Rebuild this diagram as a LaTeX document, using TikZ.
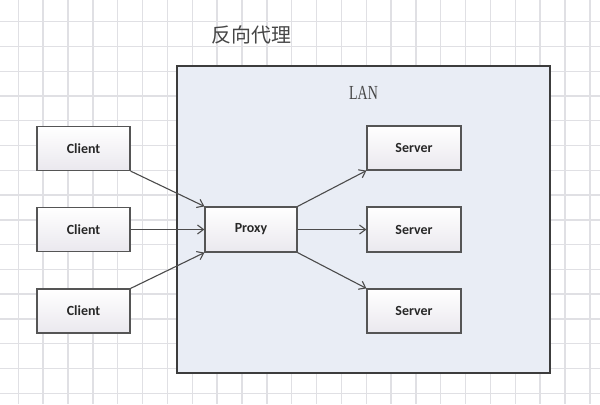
\documentclass[tikz,border=0pt]{standalone}
\usepackage{fontspec}
\usepackage{graphicx}
\usetikzlibrary{arrows.meta}
\newfontfamily\carlito{Carlito}
\newfontfamily\cjk{Noto Sans CJK SC}
\newfontfamily\serifb{Liberation Serif}
\definecolor{gridc}{RGB}{224,224,228}
\definecolor{lanfill}{RGB}{233,237,245}
\definecolor{lanline}{RGB}{60,60,60}
\definecolor{boxline}{RGB}{85,85,85}
\definecolor{boxbot}{RGB}{234,232,238}
\definecolor{txt}{RGB}{40,40,40}
\definecolor{arrowc}{RGB}{75,75,75}
\definecolor{titlec}{RGB}{70,70,70}
\tikzset{
  box/.style={draw=boxline, line width=1.2bp, top color=white, bottom color=boxbot,
    minimum width=93bp, minimum height=44bp, inner sep=0pt,
    font=\carlito\bfseries\fontsize{14}{16}\selectfont, text=txt},
  link/.style={draw=arrowc, line width=1.1bp, -{Straight Barb[length=6bp,width=9bp]}},
  gridline/.style={draw=gridc, line width=1.4bp}
}
\begin{document}
\begin{tikzpicture}[x=1bp,y=-1bp]
\useasboundingbox (0,0) rectangle (600,404);
\fill[white] (0,0) rectangle (600,404);
% grid
\foreach \i in {0,...,24} {
  \draw[gridline] ({18.3+24.85*\i},0) -- ({18.3+24.85*\i},404);
}
\foreach \j in {0,...,16} {
  \draw[gridline] (0,{21.7+24.77*\j}) -- (600,{21.7+24.77*\j});
}
% title
\node[font=\cjk\fontsize{20}{24}\selectfont, text=titlec] (title) at (251.5,35) {反向代理};
% LAN box
\node[draw=lanline, fill=lanfill, line width=1.5bp, minimum width=373bp, minimum height=307bp, inner sep=0pt] (lan) at (363.5,219.5) {};
\node[font=\serifb\fontsize{20}{24}\selectfont, text=titlec] (lanlabel) at (363.5,93) {\scalebox{0.7}[1]{LAN}};
% nodes
\node[box] (c1) at (83.5,148.5) {Client};
\node[box] (c2) at (83.5,229.5) {Client};
\node[box] (c3) at (83.5,311) {Client};
\node[box, minimum width=92bp, minimum height=45bp] (p) at (251,229.5) {Proxy};
\node[box, minimum width=94bp] (s1) at (414,148) {Server};
\node[box, minimum width=94bp, minimum height=45bp] (s2) at (414,229.5) {Server};
\node[box, minimum width=94bp] (s3) at (414,311) {Server};
% links
\draw[link] (c1.south east) -- (p.north west);
\draw[link] (c2.east) -- (p.west);
\draw[link] (c3.north east) -- (p.south west);
\draw[link] (p.north east) -- (s1.south west);
\draw[link] (p.east) -- (s2.west);
\draw[link] (p.south east) -- (s3.north west);
\end{tikzpicture}
\end{document}
